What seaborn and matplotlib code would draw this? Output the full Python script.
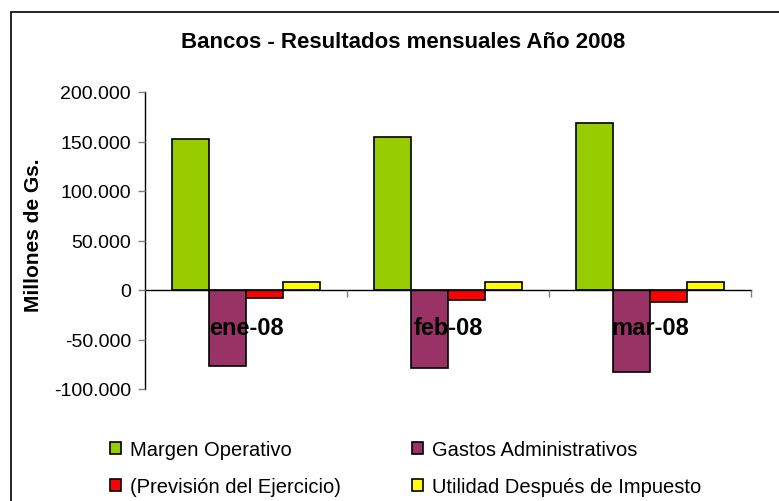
import matplotlib
matplotlib.use("Agg")
import matplotlib.pyplot as plt
import matplotlib.patches as mpatches
from matplotlib.ticker import FuncFormatter, FixedLocator
import seaborn as sns
import pandas as pd

months = ["ene-08", "feb-08", "mar-08"]
series = ["Margen Operativo", "Gastos Administrativos",
          "(Previsión del Ejercicio)", "Utilidad Después de Impuesto"]
margen = [153000, 155000, 169000]
gastos = [-77000, -79000, -83000]
prevision = [-8000, -9800, -11800]
utilidad = [8000, 8000, 7800]
colors = ["#99CC00", "#993366", "#FF0000", "#FFFF00"]

rows = []
for s, vals in zip(series, [margen, gastos, prevision, utilidad]):
    for m, v in zip(months, vals):
        rows.append({"Mes": m, "Serie": s, "Valor": v})
df = pd.DataFrame(rows)

sns.set_style("white")
plt.rcParams["font.family"] = ["Liberation Sans", "DejaVu Sans"]
plt.rcParams["text.color"] = "black"
plt.rcParams["xtick.color"] = "black"
plt.rcParams["ytick.color"] = "black"
plt.rcParams["axes.labelcolor"] = "black"

W, H = 779, 502
fig = plt.figure(figsize=(W / 100, H / 100), dpi=100)
ax = fig.add_axes([145 / W, 1 - 390 / H, (751 - 145) / W, (390 - 93) / H])

sns.barplot(data=df, x="Mes", y="Valor", hue="Serie", hue_order=series,
            palette=colors, width=0.73, edgecolor="black", linewidth=1.2,
            saturation=1, ax=ax, legend=True)
ax.set_axisbelow(False)

ax.set_ylim(-100000, 200000)
ax.set_xlim(-0.5, 2.5)
ax.set_yticks(range(-100000, 200001, 50000))
ax.yaxis.set_major_formatter(FuncFormatter(lambda v, p: f"{int(v):,}".replace(",", ".")))
ax.tick_params(axis="y", labelsize=14, length=5, width=1, color="#808080",
               labelcolor="black", direction="out", left=True, pad=5)

for s in ["top", "right"]:
    ax.spines[s].set_visible(False)
ax.spines["left"].set_color("black")
ax.spines["left"].set_linewidth(1)
ax.spines["bottom"].set_position(("data", 0))
ax.spines["bottom"].set_color("black")
ax.spines["bottom"].set_linewidth(1)

ax.set_xticks([0, 1, 2])
ax.set_xticklabels(months, fontsize=17, fontweight="bold")
ax.tick_params(axis="x", length=0, pad=19, labelcolor="black")
ax.xaxis.set_minor_locator(FixedLocator([0.5, 1.5, 2.5]))
ax.tick_params(axis="x", which="minor", length=5, width=1, color="#808080",
               direction="out", bottom=True)

ax.set_xlabel("")
ax.set_ylabel("Millones de Gs.", fontsize=15, fontweight="bold", color="black")
ax.yaxis.set_label_coords(-(145 - 43) / (751 - 145), (390 - 235) / (390 - 93))

fig.text(403 / W, 1 - 42 / H, "Bancos - Resultados mensuales Año 2008",
         ha="center", va="center", fontsize=16, fontweight="bold", color="black")

handles, labels = ax.get_legend_handles_labels()
order = [0, 2, 1, 3]
leg = ax.legend([handles[i] for i in order], [labels[i] for i in order],
                ncol=2, frameon=False, fontsize=14.5,
                loc="upper left", bbox_to_anchor=(110 / W, 1 - 441 / H),
                bbox_transform=fig.transFigure,
                handlelength=0.55, handleheight=0.55, handletextpad=0.45,
                columnspacing=3.5, labelspacing=0.9, borderaxespad=0, borderpad=0)
for t in leg.get_texts():
    t.set_color("black")

border = mpatches.Rectangle((11 / W, -0.1), 1.2, 1 - 13 / H + 0.1,
                            transform=fig.transFigure, fill=False,
                            edgecolor="black", linewidth=1.2, clip_on=False)
fig.patches.append(border)

fig.savefig("out.png", dpi=100)
